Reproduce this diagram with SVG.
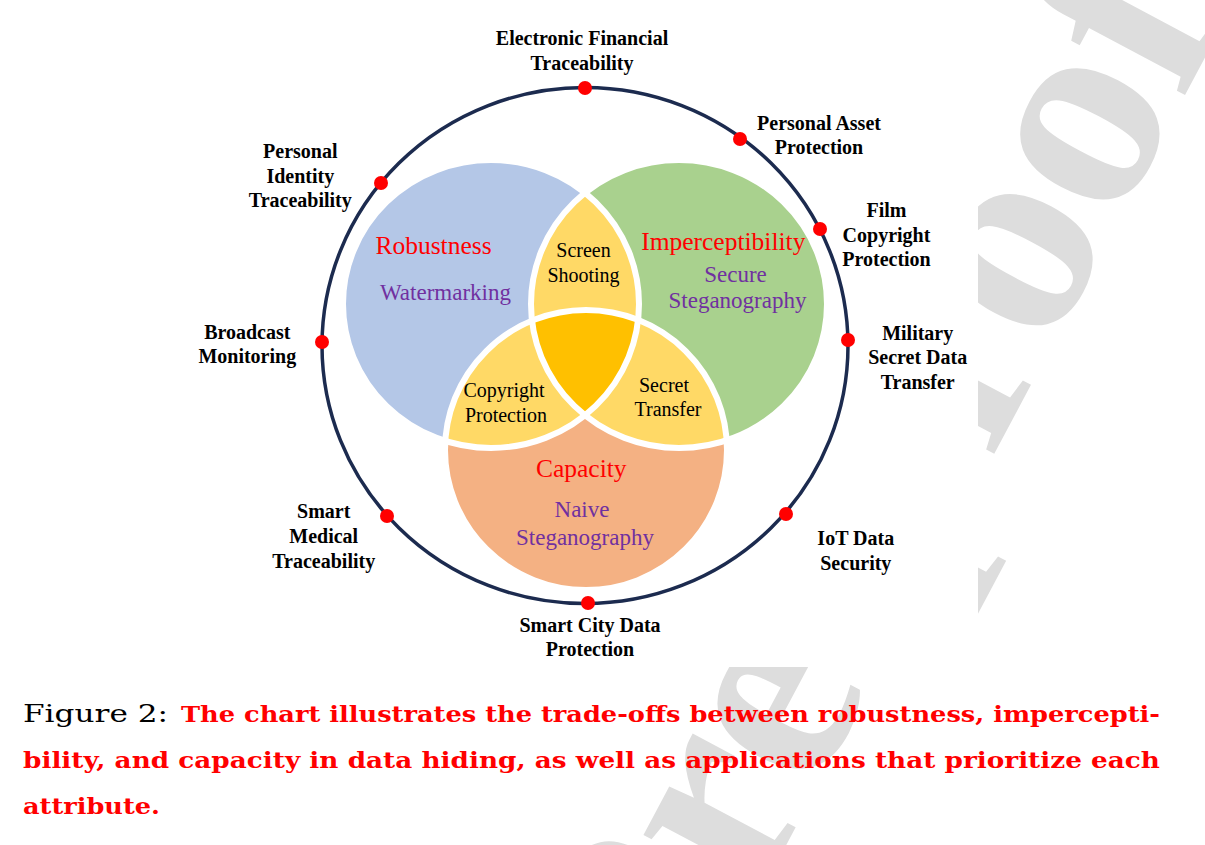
<svg xmlns="http://www.w3.org/2000/svg" width="1205" height="845" viewBox="0 0 1205 845">
<style>
.wm{font-family:"Liberation Serif",serif;font-weight:bold;font-size:285px;fill:#dddddd}
.lbl{font-family:"Liberation Serif",serif;font-weight:bold;font-size:20px;fill:#000;text-anchor:middle}
.attr{font-family:"Liberation Serif",serif;font-size:25.5px;fill:#ff0000;text-anchor:middle}
.app{font-family:"Liberation Serif",serif;font-size:23px;fill:#7030a0;text-anchor:middle}
.reg{font-family:"Liberation Serif",serif;font-size:20px;fill:#000;text-anchor:middle}
.dot{fill:#ff0000}
.cap{font-family:"DejaVu Serif",serif;font-size:25px;fill:#000}
.capr{font-family:"DejaVu Serif",serif;font-weight:bold;font-size:23px;fill:#ff0000}
</style>
<defs>
<clipPath id="cA"><ellipse cx="491" cy="304" rx="148" ry="144"/></clipPath>
<clipPath id="cB"><ellipse cx="679" cy="304" rx="148" ry="144"/></clipPath>
</defs>
<rect width="1205" height="845" fill="#fff"/>
<g id="watermark">
<text class="wm" text-anchor="end" transform="translate(1226,18) rotate(-62)">Journal Pre-proof</text>
</g>
<rect id="figure-bg" x="170" y="0" width="808" height="667" fill="#fff"/>
<g id="outer-ring">
<ellipse cx="585" cy="345.5" rx="263" ry="258" fill="none" stroke="#1c2b4f" stroke-width="3.5"/>
</g>
<g id="venn">
<ellipse id="robustness" cx="491" cy="304" rx="148" ry="144" fill="#b4c7e7"/>
<ellipse id="imperceptibility" cx="679" cy="304" rx="148" ry="144" fill="#a9d18e"/>
<ellipse id="capacity" cx="586" cy="450" rx="141" ry="140" fill="#f4b183"/>
<ellipse id="screen-shooting" cx="679" cy="304" rx="148" ry="144" fill="#ffd966" clip-path="url(#cA)"/>
<ellipse id="copyright-protection" cx="586" cy="450" rx="141" ry="140" fill="#ffd966" clip-path="url(#cA)"/>
<ellipse id="secret-transfer" cx="586" cy="450" rx="141" ry="140" fill="#ffd966" clip-path="url(#cB)"/>
<g id="center" clip-path="url(#cA)"><ellipse cx="586" cy="450" rx="141" ry="140" fill="#ffc000" clip-path="url(#cB)"/></g>
<g fill="none" stroke="#fff" stroke-width="6">
<ellipse cx="491" cy="304" rx="148" ry="144"/>
<ellipse cx="679" cy="304" rx="148" ry="144"/>
<ellipse cx="586" cy="450" rx="141" ry="140"/>
</g>
</g>
<g id="venn-labels">
<text class="attr" x="433.5" y="254">Robustness</text>
<text class="app" x="445.5" y="300">Watermarking</text>
<text class="attr" x="723.3" y="250">Imperceptibility</text>
<text class="app" x="735.5" y="281.7">Secure</text>
<text class="app" x="737.5" y="308.3">Steganography</text>
<text class="attr" x="581.3" y="476.7">Capacity</text>
<text class="app" x="582" y="516.7">Naive</text>
<text class="app" x="585" y="545">Steganography</text>
<text class="reg" x="583.5" y="256.7">Screen</text>
<text class="reg" x="583.5" y="281.7">Shooting</text>
<text class="reg" x="504" y="396.7">Copyright</text>
<text class="reg" x="506" y="421.7">Protection</text>
<text class="reg" x="664" y="391.7">Secret</text>
<text class="reg" x="668" y="415.7">Transfer</text>
</g>
<g id="app-electronic-financial">
<circle class="dot" cx="585" cy="88" r="7"/>
<text class="lbl" x="582" y="45">Electronic Financial</text>
<text class="lbl" x="582" y="70">Traceability</text>
</g>
<g id="app-personal-asset">
<circle class="dot" cx="740" cy="139" r="7"/>
<text class="lbl" x="819" y="130">Personal Asset</text>
<text class="lbl" x="819" y="154.3">Protection</text>
</g>
<g id="app-film-copyright">
<circle class="dot" cx="820" cy="229" r="7"/>
<text class="lbl" x="886.5" y="217.3">Film</text>
<text class="lbl" x="886.5" y="241.7">Copyright</text>
<text class="lbl" x="886.5" y="266">Protection</text>
</g>
<g id="app-military">
<circle class="dot" cx="848" cy="340" r="7"/>
<text class="lbl" x="917.7" y="340">Military</text>
<text class="lbl" x="917.7" y="364.3">Secret Data</text>
<text class="lbl" x="917.7" y="388.7">Transfer</text>
</g>
<g id="app-iot">
<circle class="dot" cx="786" cy="514" r="7"/>
<text class="lbl" x="855.8" y="545">IoT Data</text>
<text class="lbl" x="855.8" y="570">Security</text>
</g>
<g id="app-smart-city">
<circle class="dot" cx="588" cy="603" r="7"/>
<text class="lbl" x="590" y="632">Smart City Data</text>
<text class="lbl" x="590" y="656">Protection</text>
</g>
<g id="app-smart-medical">
<circle class="dot" cx="387" cy="516" r="7"/>
<text class="lbl" x="323.7" y="518.3">Smart</text>
<text class="lbl" x="323.7" y="543.3">Medical</text>
<text class="lbl" x="323.7" y="568.3">Traceability</text>
</g>
<g id="app-broadcast">
<circle class="dot" cx="322" cy="342" r="7"/>
<text class="lbl" x="247.3" y="339.3">Broadcast</text>
<text class="lbl" x="247.3" y="363.3">Monitoring</text>
</g>
<g id="app-personal-identity">
<circle class="dot" cx="381" cy="183" r="7"/>
<text class="lbl" x="300.3" y="158.3">Personal</text>
<text class="lbl" x="300.3" y="183.3">Identity</text>
<text class="lbl" x="300.3" y="206.7">Traceability</text>
</g>
<g id="caption">
<text class="cap" x="23" y="722" textLength="145" lengthAdjust="spacingAndGlyphs">Figure 2:</text>
<text class="capr" x="181" y="722" textLength="979" lengthAdjust="spacingAndGlyphs">The chart illustrates the trade-offs between robustness, impercepti-</text>
<text class="capr" x="23" y="768" textLength="1137" lengthAdjust="spacingAndGlyphs">bility, and capacity in data hiding, as well as applications that prioritize each</text>
<text class="capr" x="23" y="814" textLength="137" lengthAdjust="spacingAndGlyphs">attribute.</text>
</g>
</svg>
